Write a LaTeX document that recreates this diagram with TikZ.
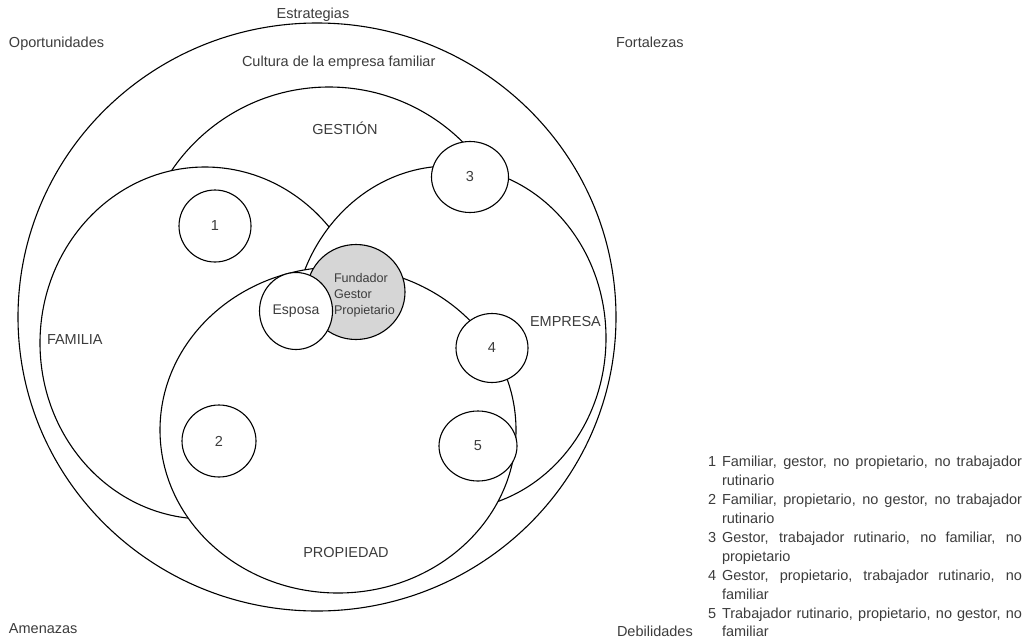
\documentclass[tikz,border=0pt]{standalone}
\usepackage{fontspec}
\setmainfont{Liberation Sans}
\usetikzlibrary{shapes.geometric}

\definecolor{ink}{HTML}{3C3C3C}
\definecolor{founder}{HTML}{D6D6D6}

\tikzset{
  set/.style={ellipse, draw=black, line width=1.1pt, fill=white,
              inner sep=0pt, outer sep=0pt},
  member/.style={set, text=ink, font=\fontsize{14.5}{17}\selectfont},
  lbl/.style={inner sep=0pt, outer sep=0pt, text=ink,
              font=\fontsize{14.5}{19}\selectfont},
}

\begin{document}
\begin{tikzpicture}[x=1pt, y=-1pt]
  \fill[white] (0,0) rectangle (1033,640);
  \useasboundingbox (0,0) rectangle (1033,640);

  % nested sets, later ones cover earlier ones
  \node[set, minimum width=598pt, minimum height=588pt] (outer) at (317,317) {};
  \node[set, minimum width=380pt, minimum height=380pt] (gestion) at (329,277) {};
  \node[set, minimum width=330pt, minimum height=352pt] (familia) at (205,343) {};
  \node[set, minimum width=314pt, minimum height=344pt] (empresa) at (449,338) {};
  \node[set, minimum width=356pt, minimum height=326pt] (propiedad) at (338,430) {};

  % members
  \node[member, minimum width=72pt, minimum height=72pt] (m1) at (215,226) {1};
  \node[member, minimum width=74pt, minimum height=72pt] (m2) at (219,441) {2};
  \node[member, minimum width=77pt, minimum height=71pt] (m3) at (470,177) {3};
  \node[member, minimum width=72pt, minimum height=69pt] (m4) at (492,348) {4};
  \node[member, minimum width=78pt, minimum height=70pt] (m5) at (478,446) {5};
  \node[set, fill=founder, minimum width=98pt, minimum height=95pt] (fundador) at (356,292) {};
  \node[lbl, font=\fontsize{12.6}{16}\selectfont, align=left, anchor=west] (fgp) at (334,295) {Fundador\\Gestor\\Propietario};
  \node[member, font=\fontsize{14}{17}\selectfont, minimum width=73pt, minimum height=77pt] (esposa) at (296,311) {Esposa};

  % set names
  \node[lbl, anchor=base] (tg) at (345,134) {GESTIÓN};
  \node[lbl, anchor=west] (tf) at (47,340) {FAMILIA};
  \node[lbl, anchor=west] (te) at (530,322) {EMPRESA};
  \node[lbl, anchor=base] (tp) at (346,557) {PROPIEDAD};
  \node[lbl, anchor=base west] (tc) at (242,66) {Cultura de la empresa familiar};

  % strategic environment
  \node[lbl, anchor=base] (est) at (313,18) {Estrategias};
  \node[lbl, anchor=base west] (opo) at (9,47) {Oportunidades};
  \node[lbl, anchor=base west] (fort) at (616,47) {Fortalezas};
  \node[lbl, anchor=base west] (ame) at (9,633) {Amenazas};
  \node[lbl, anchor=base west] (deb) at (617,636) {Debilidades};

  % legend
  \node[lbl, anchor=base west] (n1) at (708,466) {1};
  \node[lbl, anchor=base west] (l1a) at (722,466) {\makebox[300pt][s]{Familiar, gestor, no propietario, no trabajador}};
  \node[lbl, anchor=base west] (l1b) at (722,485) {rutinario};
  \node[lbl, anchor=base west] (n2) at (708,504) {2};
  \node[lbl, anchor=base west] (l2a) at (722,504) {\makebox[300pt][s]{Familiar, propietario, no gestor, no trabajador}};
  \node[lbl, anchor=base west] (l2b) at (722,523) {rutinario};
  \node[lbl, anchor=base west] (n3) at (708,542) {3};
  \node[lbl, anchor=base west] (l3a) at (722,542) {\makebox[300pt][s]{Gestor, trabajador rutinario, no familiar, no}};
  \node[lbl, anchor=base west] (l3b) at (722,561) {propietario};
  \node[lbl, anchor=base west] (n4) at (708,580) {4};
  \node[lbl, anchor=base west] (l4a) at (722,580) {\makebox[300pt][s]{Gestor, propietario, trabajador rutinario, no}};
  \node[lbl, anchor=base west] (l4b) at (722,599) {familiar};
  \node[lbl, anchor=base west] (n5) at (708,618) {5};
  \node[lbl, anchor=base west] (l5a) at (722,618) {\makebox[300pt][s]{Trabajador rutinario, propietario, no gestor, no}};
  \node[lbl, anchor=base west] (l5b) at (722,636) {familiar};
\end{tikzpicture}
\end{document}
